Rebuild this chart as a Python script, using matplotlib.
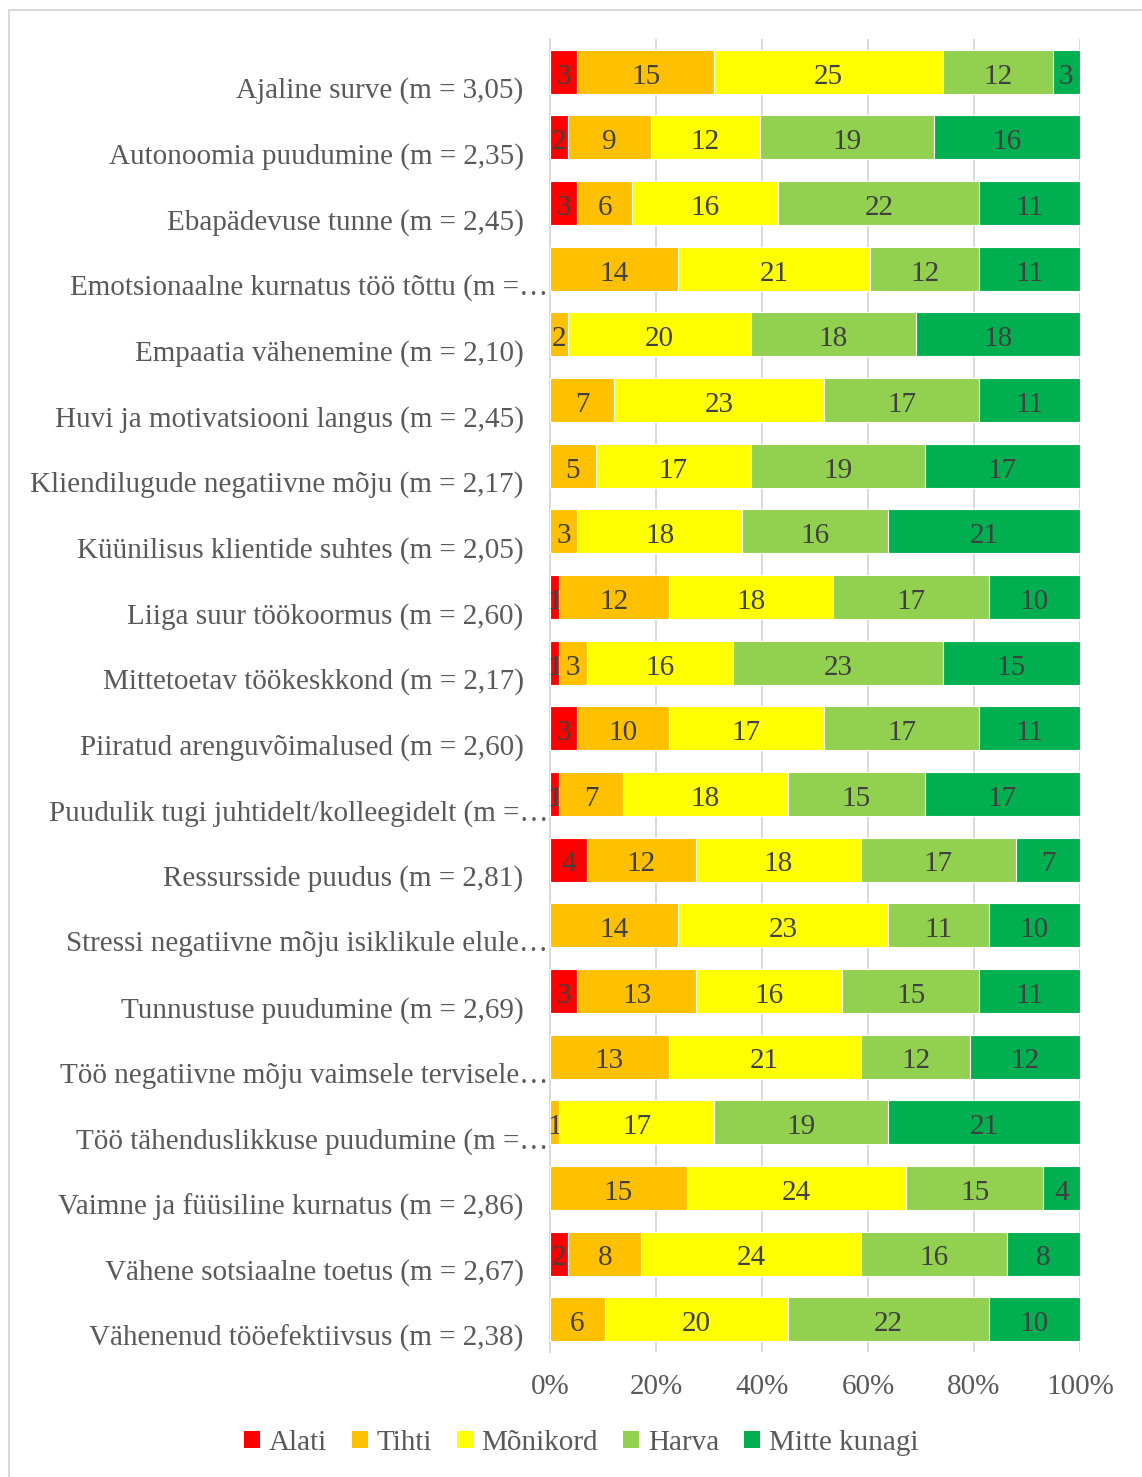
import matplotlib.pyplot as plt
from matplotlib.patches import Patch, Rectangle
from matplotlib.transforms import ScaledTranslation
from matplotlib.ticker import PercentFormatter

plt.rcParams['font.family'] = ['Liberation Serif', 'DejaVu Serif']

categories = [
    'Ajaline surve (m = 3,05)',
    'Autonoomia puudumine (m = 2,35)',
    'Ebapädevuse tunne (m = 2,45)',
    'Emotsionaalne kurnatus töö tõttu (m =…',
    'Empaatia vähenemine (m = 2,10)',
    'Huvi ja motivatsiooni langus (m = 2,45)',
    'Kliendilugude negatiivne mõju (m = 2,17)',
    'Küünilisus klientide suhtes (m = 2,05)',
    'Liiga suur töökoormus (m = 2,60)',
    'Mittetoetav töökeskkond (m = 2,17)',
    'Piiratud arenguvõimalused (m = 2,60)',
    'Puudulik tugi juhtidelt/kolleegidelt (m =…',
    'Ressursside puudus (m = 2,81)',
    'Stressi negatiivne mõju isiklikule elule…',
    'Tunnustuse puudumine (m = 2,69)',
    'Töö negatiivne mõju vaimsele tervisele…',
    'Töö tähenduslikkuse puudumine (m =…',
    'Vaimne ja füüsiline kurnatus (m = 2,86)',
    'Vähene sotsiaalne toetus (m = 2,67)',
    'Vähenenud tööefektiivsus (m = 2,38)',
]

series_names = ['Alati', 'Tihti', 'Mõnikord', 'Harva', 'Mitte kunagi']
colors = ['#FF0000', '#FFC000', '#FFFF00', '#92D050', '#00B050']

alati    = [3, 2, 3, 0, 0, 0, 0, 0, 1, 1, 3, 1, 4, 0, 3, 0, 0, 0, 2, 0]
tihti    = [15, 9, 6, 14, 2, 7, 5, 3, 12, 3, 10, 7, 12, 14, 13, 13, 1, 15, 8, 6]
monikord = [25, 12, 16, 21, 20, 23, 17, 18, 18, 16, 17, 18, 18, 23, 16, 21, 17, 24, 24, 20]
harva    = [12, 19, 22, 12, 18, 17, 19, 16, 17, 23, 17, 15, 17, 11, 15, 12, 19, 15, 16, 22]
mitte    = [3, 16, 11, 11, 18, 11, 17, 21, 10, 15, 11, 17, 7, 10, 11, 12, 21, 4, 8, 10]

series = [alati, tihti, monikord, harva, mitte]

W, H = 1142, 1477
fig = plt.figure(figsize=(W / 100, H / 100), dpi=100)
ax = fig.add_axes([550 / W, 1 - 1352 / H, 530 / W, 1313 / H])

# chart border (only left/top visible in the reference)
fig.patches.append(Rectangle((9 / W, -0.01), 1.1, 1 - 10 / H + 0.01,
                             transform=fig.transFigure, fill=False,
                             edgecolor='#d9d9d9', lw=1.5))

FS = 21
totals = [sum(v) for v in zip(*series)]
y = list(range(len(categories)))
left = [0.0] * len(categories)
for name, vals, col in zip(series_names, series, colors):
    pct = [v / t * 100 for v, t in zip(vals, totals)]
    bars = ax.barh(y, pct, left=left, height=0.67, color=col,
                   edgecolor='white', linewidth=0.8, label=name, zorder=3)
    labels = [str(v) if v > 0 else '' for v in vals]
    texts = ax.bar_label(bars, labels=labels, label_type='center',
                         fontsize=FS, color='#404040')
    for t in texts:
        t.xyann = (0, -3.5)  # digits sit a touch lower, like in Excel
    left = [l + p for l, p in zip(left, pct)]

ax.set_xlim(0, 100)
ax.set_ylim(len(categories) - 0.5, -0.5)
ax.set_xticks([0, 20, 40, 60, 80, 100])
ax.xaxis.set_major_formatter(PercentFormatter(decimals=0))
ax.set_yticks(y)
ax.set_yticklabels(categories)

ax.grid(axis='x', color='#d9d9d9', lw=1.4, zorder=0)
for s in ['top', 'right', 'bottom']:
    ax.spines[s].set_visible(False)
ax.spines['left'].set_color('#d9d9d9')
ax.spines['left'].set_linewidth(1.4)

ax.tick_params(axis='y', length=0, pad=19, labelsize=FS, labelcolor='#595959')
ax.tick_params(axis='x', length=0, pad=16, labelsize=FS, labelcolor='#595959')

# category labels sit a bit below the bar centre; truncated ones run up to the axis
off = ScaledTranslation(0, -0.16, fig.dpi_scale_trans)
off_long = ScaledTranslation(0.25, -0.16, fig.dpi_scale_trans)
for lab in ax.get_yticklabels():
    o = off_long if lab.get_text().endswith('…') else off
    lab.set_transform(lab.get_transform() + o)

handles = [Patch(facecolor=c, edgecolor='none', label=n)
           for n, c in zip(series_names, colors)]
fig.legend(handles=handles, loc='center', bbox_to_anchor=(581 / W, 1 - 1443 / H),
           ncol=5, frameon=False, fontsize=FS, labelcolor='#595959',
           handlelength=0.55, handleheight=0.55, handletextpad=0.3,
           columnspacing=0.85)

fig.savefig('out.png', dpi=100)
